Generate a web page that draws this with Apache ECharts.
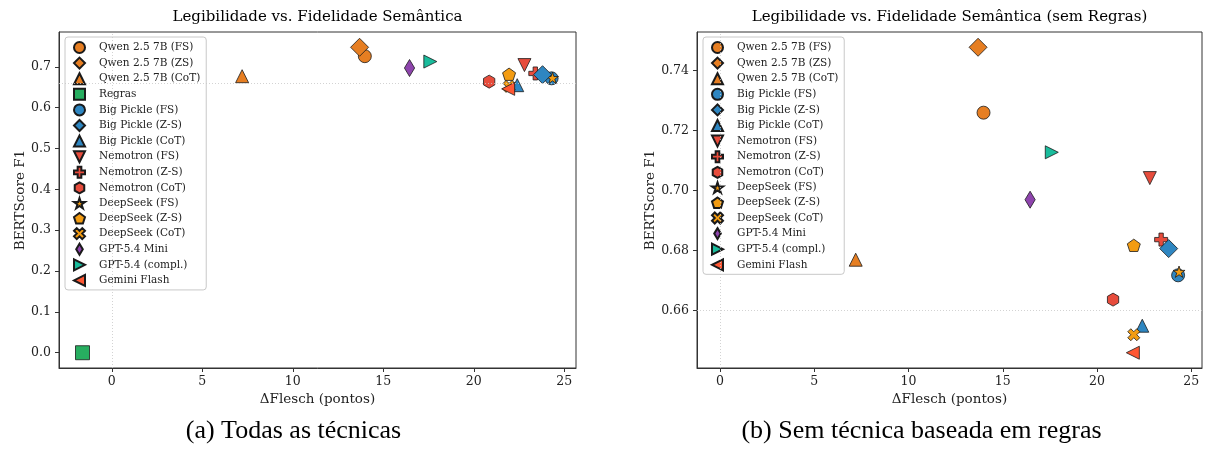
<!DOCTYPE html>
<html><head><meta charset="utf-8">
<script src="https://cdn.jsdelivr.net/npm/echarts@6/dist/echarts.min.js"></script>
<style>html,body{margin:0;padding:0;background:#fff}#c{width:1206px;height:460px}</style>
</head><body><div id="c"></div>
<script>
// ---------------- data ----------------
const techniques = ['Qwen 2.5 7B (FS)', 'Qwen 2.5 7B (ZS)', 'Qwen 2.5 7B (CoT)', 'Regras',
  'Big Pickle (FS)', 'Big Pickle (Z-S)', 'Big Pickle (CoT)',
  'Nemotron (FS)', 'Nemotron (Z-S)', 'Nemotron (CoT)',
  'DeepSeek (FS)', 'DeepSeek (Z-S)', 'DeepSeek (CoT)',
  'GPT-5.4 Mini', 'GPT-5.4 (compl.)', 'Gemini Flash'];
const deltaFlesch = [13.98, 13.69, 7.2, -1.62, 24.3, 23.8, 22.4, 22.8, 23.4, 20.85, 24.35, 21.95, 21.95, 16.45, 17.6, 21.9];
const bertScore   = [0.726, 0.7478, 0.677, 0.0, 0.6718, 0.6807, 0.655, 0.7042, 0.6837, 0.6637, 0.673, 0.6818, 0.652, 0.697, 0.7128, 0.646];
const excludedTechnique = 'Regras';
const refX = 0;
const refY = 0.66;
const xTicks = [0, 5, 10, 15, 20, 25];
const yTicksAll = [0, 0.1, 0.2, 0.3, 0.4, 0.5, 0.6, 0.7];
const yTicksNoRules = [0.66, 0.68, 0.70, 0.72, 0.74];
const titleAll = 'Legibilidade vs. Fidelidade Semântica';
const titleNoRules = 'Legibilidade vs. Fidelidade Semântica (sem Regras)';
const captionA = '(a) Todas as técnicas';
const captionB = '(b) Sem técnica baseada em regras';
const xName = 'ΔFlesch (pontos)';
const yName = 'BERTScore F1';

// ---------------- styles ----------------
const C = {qwen:'#E67E22', rules:'#27AE60', bp:'#2E86C1', nem:'#E74C3C', ds:'#F39C12', mini:'#8E44AD', compl:'#1ABC9C', gem:'#FF5733'};
const SYM = {
  circle: 'circle',
  square: 'rect',
  diamond: 'path://M0,-1L1,0L0,1L-1,0Z',
  thin: 'path://M0,-1L0.6,0L0,1L-0.6,0Z',
  up: 'path://M0,-1L1,1L-1,1Z',
  down: 'path://M-1,-1L1,-1L0,1Z',
  right: 'path://M-1,-1L1,0L-1,1Z',
  left: 'path://M1,-1L-1,0L1,1Z',
  plus: 'path://M1,0L2,0L2,1L3,1L3,2L2,2L2,3L1,3L1,2L0,2L0,1L1,1Z',
  hex: 'path://M0,-1L0.866,-0.5L0.866,0.5L0,1L-0.866,0.5L-0.866,-0.5Z',
  pent: 'path://M0,-1L0.951,-0.309L0.588,0.809L-0.588,0.809L-0.951,-0.309Z',
  star: 'path://M0,-1L0.224,-0.308L0.951,-0.309L0.362,0.118L0.588,0.809L0,0.381L-0.588,0.809L-0.362,0.118L-0.951,-0.309L-0.224,-0.308Z',
  x: 'path://M0,-0.5L0.5,-1L1,-0.5L0.5,0L1,0.5L0.5,1L0,0.5L-0.5,1L-1,0.5L-0.5,0L-1,-0.5L-0.5,-1Z'
};
const markerStyle = [
  [C.qwen,'circle',13],[C.qwen,'diamond',18],[C.qwen,'up',13],[C.rules,'square',14],
  [C.bp,'circle',13],[C.bp,'diamond',18],[C.bp,'up',13],
  [C.nem,'down',13],[C.nem,'plus',13],[C.nem,'hex',13],
  [C.ds,'star',12],[C.ds,'pent',13],[C.ds,'x',12],
  [C.mini,'thin',17],[C.compl,'right',13],[C.gem,'left',13]
];
const FONT = 'DejaVu Serif';

function limits(vals, ref) {
  const mn = Math.min(...vals, ref), mx = Math.max(...vals, ref);
  const m = 0.05 * (mx - mn);
  return [mn - m, mx + m];
}
const idxAll = techniques.map((_, i) => i);
const idxNo = idxAll.filter(i => techniques[i] !== excludedTechnique);
const xl0 = limits(idxAll.map(i => deltaFlesch[i]), refX);
const yl0 = limits(idxAll.map(i => bertScore[i]), refY);
const xl1 = limits(idxNo.map(i => deltaFlesch[i]), refX);
const yl1 = limits(idxNo.map(i => bertScore[i]), refY);

const grids = [
  {left: 59, top: 32, width: 517, height: 336},
  {left: 697, top: 32, width: 505, height: 336}
];

function xAxis(g, lim) {
  return {
    type: 'value', gridIndex: g, min: lim[0], max: lim[1],
    name: xName, nameLocation: 'middle', nameGap: 24,
    nameTextStyle: {fontFamily: FONT, fontSize: 13.5, color: '#222'},
    axisLine: {show: true, onZero: false, lineStyle: {color: '#333', width: 1}},
    axisTick: {show: true, length: 4, customValues: xTicks, lineStyle: {color: '#333'}},
    axisLabel: {customValues: xTicks, margin: 7, fontFamily: FONT, fontSize: 12.5, color: '#222'},
    splitLine: {show: false}
  };
}
function yAxis(g, lim, ticks, dec) {
  return {
    type: 'value', gridIndex: g, min: lim[0], max: lim[1],
    name: yName, nameLocation: 'middle', nameGap: 32, nameRotate: 90,
    nameTextStyle: {fontFamily: FONT, fontSize: 13.5, color: '#222'},
    axisLine: {show: true, onZero: false, lineStyle: {color: '#333', width: 1}},
    axisTick: {show: true, length: 4, customValues: ticks, lineStyle: {color: '#333'}},
    axisLabel: {customValues: ticks, margin: 8, fontFamily: FONT, fontSize: 12.5, color: '#222',
      formatter: v => Number(v).toFixed(dec)},
    splitLine: {show: false}
  };
}

const series = [];
[0, 1].forEach(g => {
  series.push({
    type: 'scatter', xAxisIndex: g, yAxisIndex: g, data: [], silent: true, z: 1,
    markLine: {
      silent: true, symbol: ['none', 'none'], label: {show: false},
      lineStyle: {type: [1, 2], color: '#c8c8c8', width: 0.8},
      data: [{xAxis: refX}, {yAxis: refY}]
    }
  });
  (g === 0 ? idxAll : idxNo).forEach(i => {
    const [col, sym, size] = markerStyle[i];
    series.push({
      type: 'scatter', name: techniques[i], xAxisIndex: g, yAxisIndex: g,
      data: [[deltaFlesch[i], bertScore[i]]],
      symbol: SYM[sym], symbolSize: size, symbolKeepAspect: true,
      z: techniques[i] === 'Big Pickle (Z-S)' ? 3 : 2,
      itemStyle: {color: col, borderColor: '#1a1a1a', borderWidth: 0.8, opacity: 1}
    });
  });
});

function legend(left, names) {
  return {
    orient: 'vertical', left: left, top: 37, data: names,
    itemWidth: 11, itemHeight: 11, itemGap: 2.6,
    padding: [4, 6, 3, 8],
    backgroundColor: 'rgba(255,255,255,0.85)', borderColor: '#c8c8c8', borderWidth: 1, borderRadius: 3,
    selectedMode: false,
    textStyle: {fontFamily: FONT, fontSize: 10.5, color: '#222', padding: [0, 0, 0, 9], lineHeight: 11}
  };
}

const txt = (x, y, text, font, size) => ({
  type: 'text', x: x, y: y, silent: true,
  style: {text: text, fontFamily: font, fontSize: size, fill: '#000', align: 'center', verticalAlign: 'middle'}
});

const chart = echarts.init(document.getElementById('c'), null, {renderer: 'canvas'});
chart.setOption({
  animation: false,
  backgroundColor: '#fff',
  grid: grids.map(g => Object.assign({show: true, borderColor: '#333', borderWidth: 1, backgroundColor: 'transparent'}, g)),
  xAxis: [xAxis(0, xl0), xAxis(1, xl1)],
  yAxis: [yAxis(0, yl0, yTicksAll, 1), yAxis(1, yl1, yTicksNoRules, 2)],
  legend: [legend(65, idxAll.map(i => techniques[i])), legend(703, idxNo.map(i => techniques[i]))],
  series: series,
  graphic: [
    txt(317.5, 17, titleAll, FONT, 15),
    txt(949.5, 17, titleNoRules, FONT, 15),
    txt(293.5, 431, captionA, 'Liberation Serif', 26),
    txt(921.5, 431, captionB, 'Liberation Serif', 26)
  ]
});
</script></body></html>
